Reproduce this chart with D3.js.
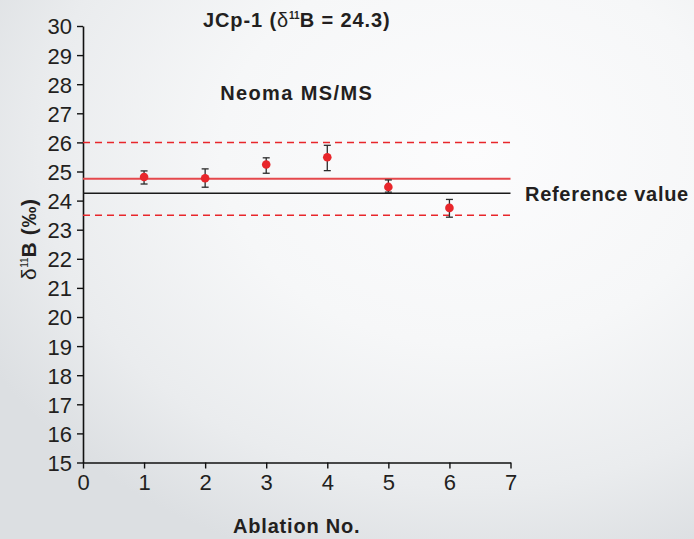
<!DOCTYPE html>
<html>
<head>
<meta charset="utf-8">
<script src="https://cdn.jsdelivr.net/npm/d3@7"></script>
<style>
  html, body { margin: 0; padding: 0; }
  body { width: 694px; height: 539px; overflow: hidden; }
  text { font-family: "Liberation Sans", Arial, Helvetica, sans-serif; fill: #231f20; }
</style>
</head>
<body>
<svg id="chart" width="694" height="539"></svg>
<script>
// ---- data ----
const ablationNo = [1, 2, 3, 4, 5, 6];
const delta11B = [24.81, 24.77, 25.24, 25.49, 24.47, 23.75];
const errLow  = [24.57, 24.46, 24.94, 25.03, 24.29, 23.43];
const errHigh = [25.02, 25.09, 25.47, 25.90, 24.71, 24.04];
const meanValue = 24.75;
const bandUpper = 26.0;
const bandLower = 23.5;
const referenceValue = 24.25;
const xTicks = [0, 1, 2, 3, 4, 5, 6, 7];
const yTicks = [15, 16, 17, 18, 19, 20, 21, 22, 23, 24, 25, 26, 27, 28, 29, 30];
const xDomain = [0, 7];
const yDomain = [15, 30];

const svg = d3.select("#chart");

// background gradient
const defs = svg.append("defs");
const grad = defs.append("radialGradient").attr("id", "bg")
  .attr("cx", "68%").attr("cy", "28%").attr("r", "80%");
grad.append("stop").attr("offset", "0%").attr("stop-color", "#fcfcfd");
grad.append("stop").attr("offset", "45%").attr("stop-color", "#f6f7f8");
grad.append("stop").attr("offset", "78%").attr("stop-color", "#eaecee");
grad.append("stop").attr("offset", "100%").attr("stop-color", "#dcdfe2");
svg.append("rect").attr("width", 694).attr("height", 539).attr("fill", "url(#bg)");

const x = d3.scaleLinear().domain(xDomain).range([83, 510.5]);
const y = d3.scaleLinear().domain(yDomain).range([462.5, 26]);

// axes
const xAxis = svg.append("g").attr("transform", `translate(0,${y(yDomain[0])})`)
  .call(d3.axisBottom(x).tickValues(xTicks).tickSize(6).tickPadding(6).tickSizeOuter(0).tickFormat(d3.format("d")));
const yAxis = svg.append("g").attr("transform", `translate(${x(xDomain[0])},0)`)
  .call(d3.axisLeft(y).tickValues(yTicks).tickSize(6).tickPadding(5).tickSizeOuter(0).tickFormat(d3.format("d")));
[xAxis, yAxis].forEach(g => {
  g.select(".domain").attr("stroke", "#111").attr("stroke-width", 1.6);
  g.selectAll(".tick line").attr("stroke", "#111").attr("stroke-width", 1.4);
  g.selectAll(".tick text").style("font-family", '"Liberation Sans", Arial, sans-serif')
    .style("font-size", "22px").attr("fill", "#231f20");
});
yAxis.selectAll(".tick text").attr("dy", "0.36em");

// horizontal lines
const x0 = x(xDomain[0]), x1 = x(xDomain[1]);
svg.append("line").attr("x1", x0).attr("x2", x1).attr("y1", y(bandUpper)).attr("y2", y(bandUpper))
  .attr("stroke", "#e8262b").attr("stroke-width", 1.5).attr("stroke-dasharray", "7,5");
svg.append("line").attr("x1", x0).attr("x2", x1).attr("y1", y(bandLower)).attr("y2", y(bandLower))
  .attr("stroke", "#e8262b").attr("stroke-width", 1.5).attr("stroke-dasharray", "7,5");
svg.append("line").attr("x1", x0).attr("x2", x1).attr("y1", y(meanValue)).attr("y2", y(meanValue))
  .attr("stroke", "#e5484c").attr("stroke-width", 2);
svg.append("line").attr("x1", x0).attr("x2", x1).attr("y1", y(referenceValue)).attr("y2", y(referenceValue))
  .attr("stroke", "#1a1a1a").attr("stroke-width", 1.5);

// error bars
const eb = svg.append("g").attr("stroke", "#2b2b2b").attr("stroke-width", 1.3);
ablationNo.forEach((n, i) => {
  const cx = x(n);
  eb.append("line").attr("x1", cx).attr("x2", cx).attr("y1", y(errLow[i])).attr("y2", y(errHigh[i]));
  eb.append("line").attr("x1", cx - 3.5).attr("x2", cx + 3.5).attr("y1", y(errLow[i])).attr("y2", y(errLow[i]));
  eb.append("line").attr("x1", cx - 3.5).attr("x2", cx + 3.5).attr("y1", y(errHigh[i])).attr("y2", y(errHigh[i]));
});

// points
svg.append("g").selectAll("circle").data(ablationNo).join("circle")
  .attr("cx", d => x(d)).attr("cy", (d, i) => y(delta11B[i])).attr("r", 4.3)
  .attr("fill", "#e8262b");

// texts
const cxPlot = (x0 + x1) / 2;
const title = svg.append("text").attr("x", cxPlot).attr("y", 27).attr("text-anchor", "middle")
  .style("font-size", "20px").style("font-weight", "bold").style("letter-spacing", "0.9px");
title.append("tspan").text("JCp-1 (");
title.append("tspan").text("δ").style("font-weight", "normal");
title.append("tspan").text("11").style("font-size", "10px").style("letter-spacing", "0px").attr("dy", "-8");
title.append("tspan").text("B = 24.3)").attr("dy", "8");

svg.append("text").attr("x", cxPlot).attr("y", 100).attr("text-anchor", "middle")
  .style("font-size", "20px").style("font-weight", "bold").style("letter-spacing", "1.4px")
  .text("Neoma MS/MS");

svg.append("text").attr("x", 525).attr("y", y(referenceValue) + 7.3)
  .style("font-size", "20px").style("font-weight", "bold").style("letter-spacing", "0.7px")
  .text("Reference value");

svg.append("text").attr("x", cxPlot).attr("y", 533).attr("text-anchor", "middle")
  .style("font-size", "20px").style("font-weight", "bold").style("letter-spacing", "0.8px")
  .text("Ablation No.");

const yl = svg.append("text").attr("transform", `translate(36,${(y(yDomain[0]) + y(yDomain[1])) / 2 - 5}) rotate(-90)`)
  .attr("text-anchor", "middle").style("font-size", "21px").style("font-weight", "bold").style("letter-spacing", "0.6px");
yl.append("tspan").text("δ").style("font-weight", "normal");
yl.append("tspan").text("11").style("font-size", "10px").style("font-weight", "normal").style("letter-spacing", "0px").attr("dy", "-8");
yl.append("tspan").text("B (‰)").attr("dy", "8");
</script>
</body>
</html>
